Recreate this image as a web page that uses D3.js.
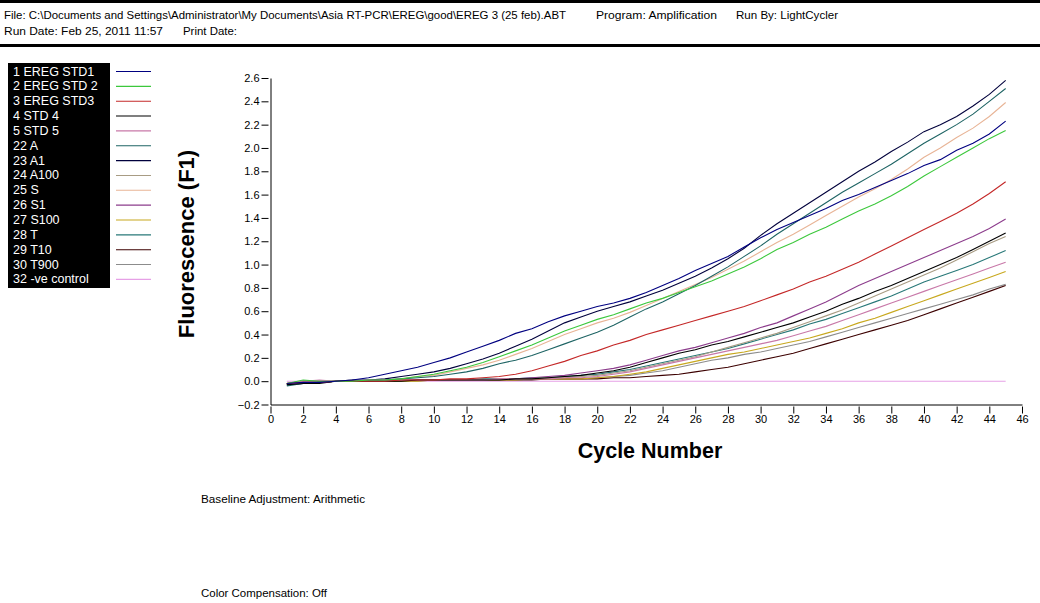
<!DOCTYPE html>
<html>
<head>
<meta charset="utf-8">
<script src="https://cdn.jsdelivr.net/npm/d3@7"></script>
<style>
  body { margin: 0; background: #fff; }
  svg { display: block; font-family: Arial, "Liberation Sans", sans-serif; }
</style>
</head>
<body>
<div class="chart-container"></div>
<script>
// cycles 1..45
const cycles = d3.range(1, 46);

const seriesNames = ['1 EREG STD1', '2 EREG STD 2', '3 EREG STD3', '4 STD 4', '5 STD 5', '22 A', '23 A1',
    '24 A100', '25 S', '26 S1', '27 S100', '28 T', '29 T10', '30 T900', '32 -ve control'];

const seriesColors = ['#000080', '#3cc83c', '#c42828', '#000000', '#c878a8', '#1e6464', '#00003c',
    '#a89c84', '#e8b496', '#8c3c8c', '#c8a81e', '#287878', '#3c0000', '#8c8c8c', '#e6a0e6'];

// fluorescence
const std1 = [-0.02, -0.01, -0.01, 0, 0.01, 0.03, 0.06, 0.09, 0.12, 0.16, 0.2, 0.25, 0.3, 0.35, 0.41, 0.45, 0.51, 0.56, 0.6, 0.64,
    0.67, 0.71, 0.76, 0.82, 0.88, 0.95, 1.01, 1.07, 1.15, 1.23, 1.3, 1.36, 1.42, 1.48, 1.55, 1.6, 1.66, 1.72, 1.78, 1.85,
    1.9, 1.98, 2.04, 2.12, 2.23];
const std2 = [-0.02, 0.01, 0, 0, 0, 0.01, 0.01, 0.02, 0.04, 0.06, 0.09, 0.12, 0.16, 0.21, 0.26, 0.31, 0.37, 0.43, 0.48, 0.53,
    0.57, 0.62, 0.67, 0.71, 0.76, 0.81, 0.86, 0.92, 0.98, 1.05, 1.13, 1.19, 1.26, 1.32, 1.39, 1.46, 1.52, 1.59, 1.67, 1.76,
    1.84, 1.92, 2.0, 2.08, 2.15];
const std3 = [-0.02, -0.01, -0.01, 0, 0, 0, 0, 0.01, 0.01, 0.01, 0.02, 0.02, 0.03, 0.04, 0.06, 0.09, 0.13, 0.17, 0.22, 0.26,
    0.31, 0.35, 0.4, 0.44, 0.48, 0.52, 0.56, 0.6, 0.64, 0.69, 0.74, 0.79, 0.85, 0.9, 0.96, 1.02, 1.09, 1.16, 1.23, 1.3,
    1.37, 1.44, 1.52, 1.61, 1.71];
const std4 = [-0.03, -0.02, -0.02, 0, 0, 0, 0, 0, 0.01, 0.01, 0.01, 0.01, 0.01, 0.01, 0.02, 0.02, 0.03, 0.04, 0.05, 0.07,
    0.09, 0.12, 0.16, 0.2, 0.24, 0.27, 0.31, 0.34, 0.38, 0.42, 0.46, 0.5, 0.55, 0.6, 0.66, 0.71, 0.77, 0.82, 0.88, 0.94,
    1.0, 1.06, 1.13, 1.2, 1.27];
const std5 = [-0.02, 0, 0.01, 0, 0, 0.01, 0.01, 0.01, 0.01, 0.01, 0.01, 0.01, 0.01, 0.02, 0.02, 0.02, 0.02, 0.03, 0.03, 0.04,
    0.06, 0.08, 0.11, 0.14, 0.17, 0.2, 0.23, 0.26, 0.29, 0.32, 0.35, 0.39, 0.43, 0.47, 0.52, 0.57, 0.62, 0.67, 0.72, 0.77,
    0.82, 0.87, 0.92, 0.97, 1.02];
const sA = [-0.04, -0.02, -0.01, 0, 0, 0, 0.01, 0.02, 0.03, 0.04, 0.06, 0.08, 0.11, 0.15, 0.18, 0.22, 0.27, 0.32, 0.37, 0.42,
    0.48, 0.55, 0.62, 0.68, 0.75, 0.82, 0.9, 0.98, 1.07, 1.16, 1.26, 1.35, 1.44, 1.53, 1.62, 1.7, 1.78, 1.86, 1.95, 2.04,
    2.12, 2.2, 2.29, 2.4, 2.51];
const sA1 = [-0.03, -0.02, -0.01, 0, 0.01, 0.01, 0.02, 0.04, 0.06, 0.08, 0.11, 0.15, 0.19, 0.24, 0.3, 0.36, 0.43, 0.5, 0.55, 0.6,
    0.64, 0.68, 0.73, 0.78, 0.84, 0.9, 0.97, 1.05, 1.14, 1.25, 1.35, 1.44, 1.53, 1.62, 1.71, 1.8, 1.88, 1.97, 2.05, 2.14,
    2.2, 2.27, 2.36, 2.46, 2.58];
const sA100 = [-0.02, 0, 0, 0, 0, 0, 0.01, 0.01, 0.01, 0.01, 0.01, 0.01, 0.01, 0.02, 0.02, 0.02, 0.03, 0.03, 0.04, 0.05,
    0.07, 0.09, 0.12, 0.15, 0.18, 0.21, 0.25, 0.29, 0.33, 0.37, 0.41, 0.46, 0.51, 0.56, 0.61, 0.67, 0.73, 0.79, 0.85, 0.91,
    0.97, 1.04, 1.11, 1.18, 1.24];
const sS = [-0.03, 0, -0.01, 0, 0, 0.01, 0.01, 0.02, 0.04, 0.05, 0.08, 0.11, 0.14, 0.18, 0.23, 0.28, 0.34, 0.4, 0.45, 0.5,
    0.54, 0.59, 0.65, 0.71, 0.77, 0.83, 0.89, 0.96, 1.03, 1.11, 1.19, 1.26, 1.34, 1.42, 1.5, 1.58, 1.65, 1.73, 1.82, 1.92,
    2.0, 2.09, 2.17, 2.27, 2.39];
const sS1 = [-0.02, 0, 0, 0, 0, 0, 0, 0.01, 0.01, 0.01, 0.01, 0.01, 0.01, 0.02, 0.02, 0.03, 0.04, 0.05, 0.07, 0.09,
    0.11, 0.14, 0.18, 0.22, 0.26, 0.29, 0.33, 0.37, 0.41, 0.46, 0.5, 0.56, 0.62, 0.68, 0.75, 0.82, 0.88, 0.94, 1.0, 1.06,
    1.12, 1.18, 1.24, 1.31, 1.39];
const sS100 = [-0.02, 0, 0, 0, 0, 0, 0, 0, 0, 0.01, 0.01, 0.01, 0.01, 0.01, 0.01, 0.02, 0.02, 0.02, 0.02, 0.03,
    0.04, 0.06, 0.08, 0.11, 0.14, 0.17, 0.2, 0.23, 0.25, 0.28, 0.31, 0.34, 0.37, 0.41, 0.45, 0.5, 0.54, 0.59, 0.64, 0.69,
    0.74, 0.79, 0.84, 0.89, 0.94];
const sT = [-0.03, -0.01, -0.01, 0, 0, 0, 0, 0.01, 0.01, 0.01, 0.01, 0.01, 0.02, 0.02, 0.02, 0.03, 0.03, 0.04, 0.05, 0.06,
    0.08, 0.1, 0.13, 0.16, 0.19, 0.22, 0.25, 0.28, 0.32, 0.36, 0.4, 0.44, 0.49, 0.53, 0.58, 0.63, 0.68, 0.73, 0.79, 0.85,
    0.9, 0.95, 1.0, 1.06, 1.12];
const sT10 = [-0.02, -0.02, -0.01, 0, 0, 0, 0, 0, 0.01, 0.01, 0.01, 0.01, 0.01, 0.01, 0.01, 0.01, 0.02, 0.02, 0.02, 0.02,
    0.03, 0.03, 0.04, 0.05, 0.06, 0.08, 0.1, 0.12, 0.15, 0.18, 0.21, 0.24, 0.28, 0.32, 0.36, 0.4, 0.44, 0.48, 0.52, 0.57,
    0.62, 0.67, 0.72, 0.77, 0.82];
const sT900 = [-0.02, 0, 0, 0, 0, 0, 0, 0, 0, 0.01, 0.01, 0.01, 0.01, 0.01, 0.01, 0.02, 0.02, 0.02, 0.02, 0.03,
    0.04, 0.05, 0.07, 0.09, 0.12, 0.15, 0.18, 0.2, 0.23, 0.25, 0.28, 0.31, 0.34, 0.38, 0.42, 0.46, 0.5, 0.54, 0.58, 0.62,
    0.66, 0.7, 0.74, 0.79, 0.83];
const control = [0, 0, 0, 0, 0, 0, 0, 0, 0, 0, 0, 0, 0, 0, 0, 0, 0, 0, 0, 0,
    0, 0, 0, 0, 0, 0, 0, 0, 0, 0, 0, 0, 0, 0, 0, 0, 0, 0, 0, 0,
    0, 0, 0, 0, 0];

const seriesValues = [std1, std2, std3, std4, std5, sA, sA1, sA100, sS, sS1, sS100, sT, sT10, sT900, control];

const xTicks = d3.range(0, 47, 2);
const yTicks = d3.range(-0.2, 2.61, 0.2).map(v => Math.round(v * 10) / 10);

const headerLine1 = ['File: C:\\Documents and Settings\\Administrator\\My Documents\\Asia RT-PCR\\EREG\\good\\EREG 3 (25 feb).ABT',
    'Program: Amplification', 'Run By: LightCycler'];
const headerLine2 = ['Run Date: Feb 25, 2011 11:57', 'Print Date:'];

const width = 1040, height = 603;
const svg = d3.select('.chart-container').append('svg')
    .attr('width', width)
    .attr('height', height);

// entête
svg.append('rect').attr('x', 0).attr('y', 0).attr('width', width).attr('height', 3).attr('fill', '#000');
svg.append('rect').attr('x', 0).attr('y', 44).attr('width', width).attr('height', 3).attr('fill', '#000');

const h1x = [4, 596, 736];
const h1len = [562, 121, 102];
headerLine1.forEach((t, i) => {
    svg.append('text').attr('x', h1x[i]).attr('y', 19).attr('font-size', 10.5).attr('fill', '#000')
        .attr('textLength', h1len[i]).attr('lengthAdjust', 'spacingAndGlyphs').text(t);
});
const h2x = [4, 183];
const h2len = [159, 54];
headerLine2.forEach((t, i) => {
    svg.append('text').attr('x', h2x[i]).attr('y', 35).attr('font-size', 10.5).attr('fill', '#000')
        .attr('textLength', h2len[i]).attr('lengthAdjust', 'spacingAndGlyphs').text(t);
});

// échelles
const xScale = d3.scaleLinear().domain([0, 46]).range([270.5, 1022]);
const yScale = d3.scaleLinear().domain([-0.2, 2.6]).range([404.5, 78]);

// axes
const yAxis = svg.append('g')
    .attr('transform', 'translate(270.5,0)')
    .call(d3.axisLeft(yScale).tickValues(yTicks).tickSize(7).tickSizeOuter(0).tickPadding(4)
        .tickFormat(d3.format('.1f')));
yAxis.selectAll('text').attr('font-size', 11).attr('fill', '#000').attr('font-family', 'Arial, "Liberation Sans", sans-serif');
yAxis.selectAll('line').attr('transform', 'translate(-2,0)');

const xAxis = svg.append('g')
    .attr('transform', 'translate(0,404.5)')
    .call(d3.axisBottom(xScale).tickValues(xTicks).tickSize(7).tickSizeOuter(0).tickPadding(4));
xAxis.selectAll('text').attr('font-size', 11).attr('fill', '#000').attr('font-family', 'Arial, "Liberation Sans", sans-serif');
xAxis.selectAll('line').attr('transform', 'translate(0,2)');

// courbes
const line = d3.line()
    .x((d, i) => xScale(cycles[i]))
    .y(d => yScale(d));

svg.append('g')
    .selectAll('path')
    .data(seriesValues.map((v, i) => ({ values: v, color: seriesColors[i] })).reverse())
    .enter()
    .append('path')
    .attr('d', d => line(d.values))
    .attr('fill', 'none')
    .attr('stroke', d => d.color)
    .attr('stroke-width', 1.1);

// titres des axes
svg.append('text')
    .attr('transform', 'translate(194,244) rotate(-90)')
    .attr('text-anchor', 'middle')
    .attr('font-size', 22)
    .attr('font-weight', 'bold')
    .text('Fluorescence (F1)');

svg.append('text')
    .attr('x', 650)
    .attr('y', 458)
    .attr('text-anchor', 'middle')
    .attr('font-size', 21.5)
    .attr('font-weight', 'bold')
    .text('Cycle Number');

// légende
const legend = svg.append('g');
legend.append('rect').attr('x', 8).attr('y', 63).attr('width', 102).attr('height', 225).attr('fill', '#000');
const rowH = 14.85;
seriesNames.forEach((name, i) => {
    const cy = 71 + i * rowH;
    legend.append('text')
        .attr('x', 13).attr('y', cy + 4.5)
        .attr('font-size', 12.5).attr('fill', '#fff')
        .text(name);
    legend.append('line')
        .attr('x1', 116).attr('x2', 151)
        .attr('y1', cy + 0.5).attr('y2', cy + 0.5)
        .attr('stroke', seriesColors[i]).attr('stroke-width', 1.1);
});

// notes en bas
svg.append('text').attr('x', 201).attr('y', 503).attr('font-size', 10)
    .attr('textLength', 164).attr('lengthAdjust', 'spacingAndGlyphs').text('Baseline Adjustment: Arithmetic');
svg.append('text').attr('x', 201).attr('y', 597).attr('font-size', 10)
    .attr('textLength', 126).attr('lengthAdjust', 'spacingAndGlyphs').text('Color Compensation: Off');
</script>
</body>
</html>
